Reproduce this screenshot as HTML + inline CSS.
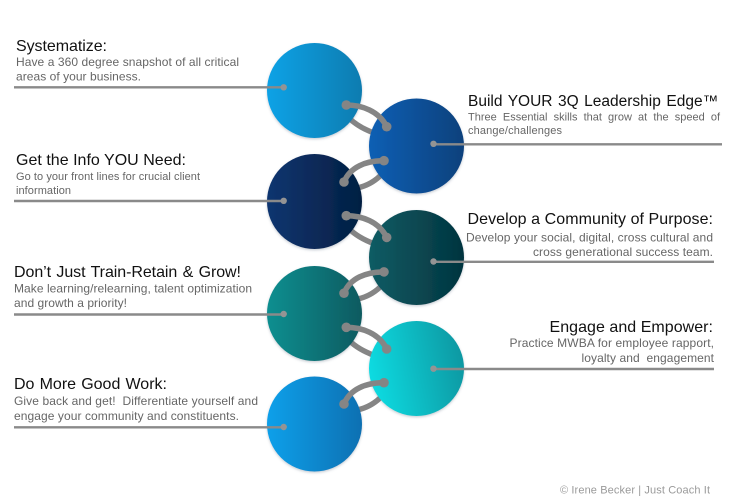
<!DOCTYPE html>
<html><head><meta charset="utf-8"><style>
html,body{margin:0;padding:0;background:#fff;width:736px;height:503px;overflow:hidden}
svg{display:block}
text{font-family:"Liberation Sans",Arial,sans-serif}
.h{font-size:16px;fill:#111}
.s{font-size:12px;fill:#666}
.t{font-size:11px;fill:#666}
.l{stroke:#8a8a8a;stroke-width:2.4;fill:none}
.d{fill:#949494}
.a{stroke:#858585;stroke-width:5.6;fill:none;stroke-linecap:round}
.b{stroke:#858585;stroke-width:5.4;fill:none;stroke-linecap:round}
</style></head><body>
<svg width="736" height="503" viewBox="0 0 736 503" xmlns="http://www.w3.org/2000/svg">
<defs>
<linearGradient id="g1"><stop offset="0" stop-color="#0ba2e6"/><stop offset="1" stop-color="#0a7cb0"/></linearGradient>
<linearGradient id="g2"><stop offset="0" stop-color="#0a5fb4"/><stop offset="1" stop-color="#07417c"/></linearGradient>
<linearGradient id="g3"><stop offset="0" stop-color="#0f3570"/><stop offset="1" stop-color="#031f42"/></linearGradient>
<linearGradient id="g4"><stop offset="0" stop-color="#0e5c64"/><stop offset="1" stop-color="#03343f"/></linearGradient>
<linearGradient id="g5"><stop offset="0" stop-color="#0a8f90"/><stop offset="1" stop-color="#075a60"/></linearGradient>
<linearGradient id="g6" x1="0" y1="0.600" x2="1" y2="0.400"><stop offset="0" stop-color="#0bdce2"/><stop offset="1" stop-color="#0798a2"/></linearGradient>
<linearGradient id="g7"><stop offset="0" stop-color="#0aa0ea"/><stop offset="1" stop-color="#0a70b2"/></linearGradient>
<filter id="sh" x="-20%" y="-20%" width="140%" height="140%"><feDropShadow dx="0" dy="1.200" stdDeviation="1.200" flood-color="#5a6a80" flood-opacity=".35"/></filter>
</defs>

<!-- back arcs -->
<path class="b" d="M349 118 Q358 127 374 133"/>
<path class="b" d="M357 188 Q372 185 383 173"/>
<path class="b" d="M349 228.700 Q358 237.700 374 243.700"/>
<path class="b" d="M357 299.200 Q372 296.200 383 284.200"/>
<path class="b" d="M349 340.300 Q358 349.300 374 355.300"/>
<path class="b" d="M357 410 Q372 407 383 395"/>

<!-- circles -->
<g filter="url(#sh)">
<circle cx="314.500" cy="90.500" r="47.500" fill="url(#g1)"/>
<circle cx="416.500" cy="146" r="47.500" fill="url(#g2)"/>
<circle cx="314.500" cy="201.500" r="47.500" fill="url(#g3)"/>
<circle cx="416.500" cy="257.500" r="47.500" fill="url(#g4)"/>
<circle cx="314.500" cy="313.500" r="47.500" fill="url(#g5)"/>
<circle cx="416.500" cy="368.500" r="47.500" fill="url(#g6)"/>
<circle cx="314.500" cy="424" r="47.500" fill="url(#g7)"/>
</g>

<!-- leader lines -->
<path class="l" d="M14 87.300H284"/>
<path class="l" d="M14 201H284"/>
<path class="l" d="M14 314.500H284"/>
<path class="l" d="M14 427.300H284"/>
<path class="l" d="M434 144.300H722"/>
<path class="l" d="M434 261.800H714"/>
<path class="l" d="M434 369H714"/>
<circle class="d" cx="283.700" cy="87.300" r="3.200"/>
<circle class="d" cx="283.700" cy="200.800" r="3.200"/>
<circle class="d" cx="283.700" cy="314" r="3.200"/>
<circle class="d" cx="283.700" cy="427" r="3.200"/>
<circle class="d" cx="433.500" cy="143.800" r="3.200"/>
<circle class="d" cx="433.500" cy="261.500" r="3.200"/>
<circle class="d" cx="433.500" cy="368.700" r="3.200"/>

<!-- front arcs -->
<path class="a" d="M346 105 C362 105 379 111 386.700 126.700"/>
<path class="a" d="M346 215.700 C362 215.700 379 221.700 386.700 237.400"/>
<path class="a" d="M346 327.300 C362 327.300 379 333.300 386.700 349"/>
<path class="a" d="M344 182 C350 167 366 160.700 384 160.700"/>
<path class="a" d="M344 293.200 C350 278.200 366 271.900 384 271.900"/>
<path class="a" d="M344 404 C350 389 366 382.700 384 382.700"/>
<g fill="#858585">
<circle cx="346.300" cy="105" r="4.800"/><circle cx="386.700" cy="126.700" r="4.800"/>
<circle cx="346.300" cy="215.700" r="4.800"/><circle cx="386.700" cy="237.400" r="4.800"/>
<circle cx="346.300" cy="327.300" r="4.800"/><circle cx="386.700" cy="349" r="4.800"/>
<circle cx="344" cy="182" r="4.800"/><circle cx="384" cy="160.700" r="4.800"/>
<circle cx="344" cy="293.200" r="4.800"/><circle cx="384" cy="271.900" r="4.800"/>
<circle cx="344" cy="404" r="4.800"/><circle cx="384" cy="382.700" r="4.800"/>
</g>

<!-- left text -->
<text class="h" x="16" y="51" textLength="91" lengthAdjust="spacing">Systematize:</text>
<text class="s" x="16" y="66" textLength="223" lengthAdjust="spacing">Have a 360 degree snapshot of all critical</text>
<text class="s" x="16" y="80.500" textLength="125" lengthAdjust="spacing">areas of your business.</text>

<text class="h" x="16" y="165" textLength="170" lengthAdjust="spacing">Get the Info YOU Need:</text>
<text class="t" x="16" y="180" textLength="184" lengthAdjust="spacing">Go to your front lines for crucial client</text>
<text class="t" x="16" y="194" textLength="55" lengthAdjust="spacing">information</text>

<text class="h" x="14" y="277" style="word-spacing:1px" textLength="227" lengthAdjust="spacing">Don’t Just Train-Retain  &amp; Grow!</text>
<text class="s" x="14" y="292.500" textLength="238" lengthAdjust="spacing">Make learning/relearning, talent optimization</text>
<text class="s" x="14" y="307" textLength="113" lengthAdjust="spacing">and growth a priority!</text>

<text class="h" x="14" y="389" style="word-spacing:0.700px">Do More Good Work:</text>
<text class="s" x="14" y="405" xml:space="preserve" textLength="244" lengthAdjust="spacing">Give back and get!  Differentiate yourself and</text>
<text class="s" x="14" y="420" textLength="225" lengthAdjust="spacing">engage your community and constituents.</text>

<!-- right text -->
<text x="468" y="106" style="font-size:15.500px;fill:#111;word-spacing:1.200px">Build YOUR 3Q Leadership Edge™</text>
<text class="t" x="468" y="120.500" style="word-spacing:3.070px">Three Essential skills that grow at the speed of</text>
<text class="t" x="468" y="134" textLength="94" lengthAdjust="spacing">change/challenges</text>

<text class="h" x="467.500" y="224" textLength="245.500" lengthAdjust="spacing">Develop a Community of Purpose:</text>
<text class="s" x="466" y="241.500" textLength="247" lengthAdjust="spacing">Develop your social, digital, cross cultural and</text>
<text class="s" x="533" y="256" textLength="180" lengthAdjust="spacing">cross generational success team.</text>

<text class="h" x="549.500" y="332" textLength="163.500" lengthAdjust="spacing">Engage and Empower:</text>
<text class="s" x="509.500" y="347" textLength="204.500" lengthAdjust="spacing">Practice MWBA for employee rapport,</text>
<text class="s" x="581.500" y="362" xml:space="preserve" textLength="132.500" lengthAdjust="spacing">loyalty and  engagement</text>

<text x="560" y="493.500" textLength="150" lengthAdjust="spacing" style="font-size:11px;fill:#9a9a9a">© Irene Becker | Just Coach It</text>
</svg>
</body></html>
